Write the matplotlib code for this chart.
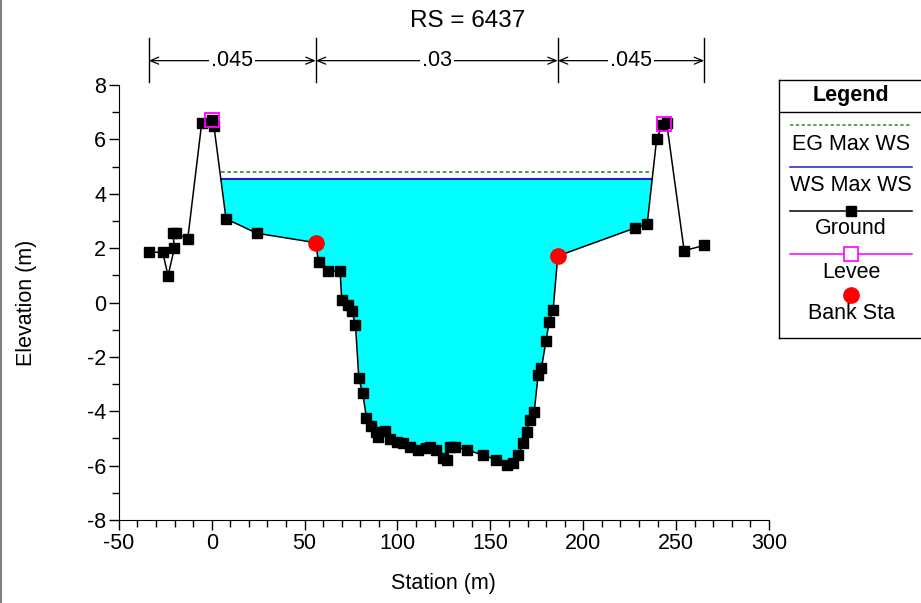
import numpy as np
import matplotlib
matplotlib.use("Agg")
import matplotlib.pyplot as plt
from matplotlib.lines import Line2D
from matplotlib.ticker import MultipleLocator

plt.rcParams["font.family"] = ["Liberation Sans", "DejaVu Sans"]
plt.rcParams["axes.unicode_minus"] = False

# Ground profile (station, elevation)
station = [-33.9, -26.4, -23.5, -20.1, -20.8, -19.4, -12.9, -5.4, 0.0, 1.2,
           7.7, 24.2, 56.0, 57.5, 62.5, 69.1, 70.0, 73.4, 75.4, 77.4,
           79.2, 81.3, 83.3, 85.5, 88.7, 89.6, 93.3, 95.9, 99.5, 103.0,
           106.6, 111.1, 115.6, 117.4, 121.0, 124.6, 126.4, 128.2, 130.9, 137.2,
           146.1, 153.3, 158.7, 162.3, 165.0, 167.6, 169.5, 171.2, 173.6, 175.7,
           177.5, 179.9, 181.6, 183.8, 186.3, 227.8, 234.4, 239.5, 242.5, 244.9,
           254.3, 265.1]
elevation = [1.85, 1.85, 0.99, 1.99, 2.55, 2.55, 2.34, 6.59, 6.70, 6.49,
             3.08, 2.55, 2.20, 1.48, 1.16, 1.16, 0.09, -0.09, -0.31, -0.83,
             -2.79, -3.34, -4.24, -4.53, -4.75, -4.94, -4.73, -5.02, -5.12, -5.18,
             -5.30, -5.42, -5.36, -5.30, -5.42, -5.73, -5.79, -5.30, -5.30, -5.42,
             -5.61, -5.79, -5.98, -5.91, -5.61, -5.18, -4.75, -4.32, -4.02, -2.67,
             -2.42, -1.42, -0.73, -0.26, 1.71, 2.74, 2.88, 6.01, 6.53, 6.61,
             1.91, 2.10]

levee_sta = [0.0, 243.6]
levee_elev = [6.72, 6.56]
bank_sta = [56.0, 186.3]
bank_elev = [2.20, 1.71]

ws_elev = 4.54
eg_elev = 4.81

n_values = [".045", ".03", ".045"]
n_breaks = [station[0], bank_sta[0], bank_sta[1], station[-1]]

sta = np.array(station)
elv = np.array(elevation)


def crossing(i):
    # where segment i -> i+1 meets the water surface
    x0, x1 = sta[i], sta[i + 1]
    y0, y1 = elv[i], elv[i + 1]
    return x0 + (ws_elev - y0) * (x1 - x0) / (y1 - y0)


# water body between the two levees
i_left = 9   # segment 1.2 -> 7.7
i_right = 56  # segment 234.4 -> 239.5
x_l = crossing(i_left)
x_r = crossing(i_right)
poly_x = [x_l] + list(sta[i_left + 1:i_right + 1]) + [x_r]
poly_y = [ws_elev] + list(elv[i_left + 1:i_right + 1]) + [ws_elev]

FS = 15.5

fig = plt.figure(figsize=(9.21, 6.03), dpi=100)
ax = fig.add_axes([0.129, 0.1376, 0.706, 0.7214])

ax.fill(poly_x, poly_y, color="#00FFFF", zorder=1, lw=0)
ax.plot([x_l, x_r], [eg_elev, eg_elev], color="#2E8B2E", ls=(0, (2.2, 1.6)), lw=1.2, zorder=2)
ax.plot([x_l, x_r], [ws_elev, ws_elev], color="#1F1FC8", lw=1.5, zorder=2)
ax.plot(station, elevation, color="black", lw=1.1, marker="s", ms=6.5, zorder=3)
ax.plot(levee_sta, levee_elev, ls="none", marker="s", ms=10, mfc="none", mec="#FF00FF",
        mew=1.3, zorder=4)
ax.plot(bank_sta, bank_elev, ls="none", marker="o", ms=11, color="#FF0000", zorder=5)

ax.set_xlim(-50, 300)
ax.set_ylim(-8, 8)
ax.xaxis.set_major_locator(MultipleLocator(50))
ax.xaxis.set_minor_locator(MultipleLocator(10))
ax.yaxis.set_major_locator(MultipleLocator(2))
ax.yaxis.set_minor_locator(MultipleLocator(1))
ax.tick_params(which="major", length=7, width=1, labelsize=FS, direction="out", pad=2)
ax.tick_params(which="minor", length=5, width=1, direction="out")
ax.spines["top"].set_visible(False)
ax.spines["right"].set_visible(False)
ax.set_xlabel("Station (m)", fontsize=FS, labelpad=14)
ax.set_ylabel("Elevation (m)", fontsize=FS, labelpad=36)

# Manning's n annotations above plot
trans = ax.get_xaxis_transform()
for b in n_breaks:
    ax.plot([b, b], [1.007, 1.107], transform=trans, color="black", lw=1, clip_on=False)
for k, lab in enumerate(n_values):
    a, b = n_breaks[k], n_breaks[k + 1]
    ax.annotate("", xy=(a, 1.056), xytext=(b, 1.056), xycoords=trans, textcoords=trans,
                arrowprops=dict(arrowstyle="<->,head_length=0.6,head_width=0.25",
                                color="black", lw=0.9, shrinkA=0, shrinkB=0))
    ax.text((a + b) / 2, 1.056, lab, transform=trans, ha="center", va="center",
            fontsize=FS, bbox=dict(facecolor="white", edgecolor="none", pad=1.5))

fig.text(0.508, 0.965, "RS = 6437", ha="center", va="center", fontsize=17.5)

# legend box
lg = fig.add_axes([779 / 921, 1 - 338 / 603, 145 / 921, 258 / 603])
lg.set_xlim(779, 924)
lg.set_ylim(338, 80)
lg.set_xticks([])
lg.set_yticks([])
for s in lg.spines.values():
    s.set_linewidth(1)
lg.axhline(111.5, color="black", lw=1)
cx = 851
lg.text(cx, 96, "Legend", ha="center", va="center", fontsize=FS, fontweight="bold")
x0, x1 = 790, 912
lg.plot([x0, x1], [125, 125], color="#2E8B2E", ls=(0, (2.2, 1.6)), lw=1.1)
lg.text(cx, 144, "EG Max WS", ha="center", va="center", fontsize=FS)
lg.plot([x0, x1], [167, 167], color="#1F1FC8", lw=1.1)
lg.text(cx, 185.5, "WS Max WS", ha="center", va="center", fontsize=FS)
lg.plot([x0, x1], [210.5, 210.5], color="black", lw=1.1)
lg.plot([cx], [210.5], marker="s", ms=6.5, color="black")
lg.text(cx, 229, "Ground", ha="center", va="center", fontsize=FS)
lg.plot([x0, x1], [253.5, 253.5], color="#FF00FF", lw=1.1)
lg.plot([cx], [253.5], marker="s", ms=10, mfc="white", mec="#FF00FF", mew=1.2)
lg.text(cx, 272, "Levee", ha="center", va="center", fontsize=FS)
lg.plot([cx], [295], marker="o", ms=11, color="#FF0000")
lg.text(cx, 313.5, "Bank Sta", ha="center", va="center", fontsize=FS)

fig.add_artist(Line2D([0.0008, 0.0008], [0, 1], color="#808080", lw=1.5))

fig.savefig("out.png", dpi=100)
